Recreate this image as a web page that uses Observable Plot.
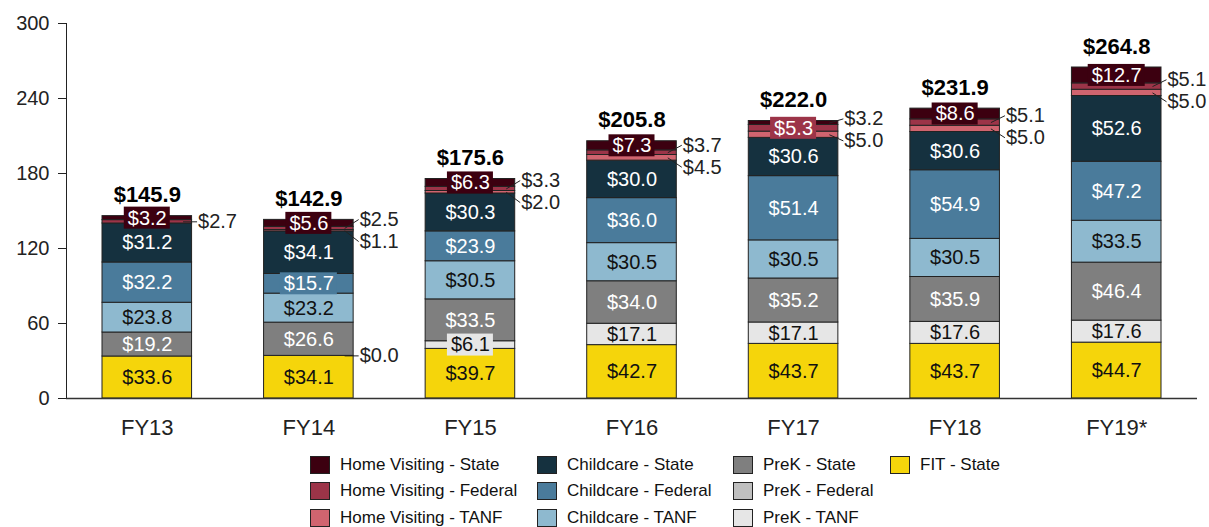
<!DOCTYPE html>
<html><head><meta charset="utf-8">
<script src="https://cdn.jsdelivr.net/npm/d3@7"></script>
<script src="https://cdn.jsdelivr.net/npm/@observablehq/plot@0.6"></script>
<style>
body{margin:0;background:#fff;font-family:"Liberation Sans",Arial,sans-serif;}
#chart svg{display:block}
g[aria-label="x-axis"] text, g[aria-label="x-axis tick label"] text{font-size:22px;}
#legend{position:relative;height:77px;width:1209px;overflow:hidden}
.li{position:absolute;display:flex;align-items:center;font-size:17px;color:#111;height:20px;white-space:nowrap}
.sw{width:20px;height:18px;border:1px solid #222;margin-right:10px;box-sizing:border-box}
</style></head><body><div id="chart"></div><div id="legend"></div>
<script>
const years = ["FY13","FY14","FY15","FY16","FY17","FY18","FY19*"];
// stack order, bottom to top
const series = ["FIT - State","PreK - TANF","PreK - Federal","PreK - State","Childcare - TANF","Childcare - Federal","Childcare - State","Home Visiting - TANF","Home Visiting - Federal","Home Visiting - State"];
const colors = ["#f5d50b","#e6e6e6","#bfbfbf","#7f7f7f","#8eb9cf","#4a7b9b","#15313f","#d0646f","#9c3448","#3c0010"];
const fitState    = [33.6,34.1,39.7,42.7,43.7,43.7,44.7];
const prekTanf    = [0.0,0.0,6.1,17.1,17.1,17.6,17.6];
const prekFederal = [0,0,0,0,0,0,0];
const prekState   = [19.2,26.6,33.5,34.0,35.2,35.9,46.4];
const ccTanf      = [23.8,23.2,30.5,30.5,30.5,30.5,33.5];
const ccFederal   = [32.2,15.7,23.9,36.0,51.4,54.9,47.2];
const ccState     = [31.2,34.1,30.3,30.0,30.6,30.6,52.6];
const hvTanf      = [0.0,1.1,2.0,4.5,5.0,5.0,5.0];
const hvFederal   = [2.7,2.5,3.3,3.7,5.3,5.1,5.1];
const hvState     = [3.2,5.6,6.3,7.3,3.2,8.6,12.7];
const values = [fitState,prekTanf,prekFederal,prekState,ccTanf,ccFederal,ccState,hvTanf,hvFederal,hvState];
// labels drawn outside the bar with a leader line
const callouts = [
  ["FY13","Home Visiting - Federal"],
  ["FY14","Home Visiting - Federal"],["FY14","Home Visiting - TANF"],["FY14","PreK - TANF"],
  ["FY15","Home Visiting - Federal"],["FY15","Home Visiting - TANF"],
  ["FY16","Home Visiting - Federal"],["FY16","Home Visiting - TANF"],
  ["FY17","Home Visiting - State"],["FY17","Home Visiting - TANF"],
  ["FY18","Home Visiting - Federal"],["FY18","Home Visiting - TANF"],
  ["FY19*","Home Visiting - Federal"],["FY19*","Home Visiting - TANF"]
];
const legendCols = [
  ["Home Visiting - State","Home Visiting - Federal","Home Visiting - TANF"],
  ["Childcare - State","Childcare - Federal","Childcare - TANF"],
  ["PreK - State","PreK - Federal","PreK - TANF"],
  ["FIT - State"]
];
const darkText = new Set(["Home Visiting - State","Home Visiting - Federal","Home Visiting - TANF","Childcare - State","Childcare - Federal","PreK - State"]);

const W=1209,H=450,mL=66,mR=12,mT=23,mB=52;
const yMax=300;
const bandPx=(W-mL-mR)/years.length;
const pxY=(H-mT-mB)/yMax;
const ux=p=>p/bandPx, uy=p=>p/pxY;
const inset=36;

const rows=[];
years.forEach((yr,i)=>{
  let base=0;
  series.forEach((s,k)=>{
    const v=values[k][i];
    rows.push({i,year:yr,series:s,value:v,y0:base,y1:base+v,mid:base+v/2});
    base+=v;
  });
});
const isCallout = r => callouts.some(([y,s])=>y===r.year&&s===r.series);
const totals = years.map((yr,i)=>({i,total:d3.sum(rows.filter(r=>r.i===i),r=>r.value)}));
const fmt = v => "$"+v.toFixed(1);

// callout label positions
const calloutRows=[];
years.forEach((yr,i)=>{
  const cs = rows.filter(r=>r.i===i&&isCallout(r));
  const hv = cs.filter(r=>r.series.startsWith("Home")).sort((a,b)=>b.mid-a.mid);
  const other = cs.filter(r=>!r.series.startsWith("Home"));
  if(hv.length===2){
    const avg=(hv[0].mid+hv[1].mid)/2;
    calloutRows.push({...hv[0],ly:avg+uy(10)});
    calloutRows.push({...hv[1],ly:avg-uy(12)});
  } else hv.forEach(r=>calloutRows.push({...r,ly:r.mid}));
  other.forEach(r=>calloutRows.push({...r,ly:r.mid}));
});
const barRight = d => d.i+0.5-ux(inset);

const inner = rows.filter(r=>r.value>0&&!isCallout(r));
const plain = inner.filter(r=>r.value>=16), boxed = inner.filter(r=>r.value<16);
const boxHalfW = d => ux((fmt(d.value).length*11+2)/2);

const chart = Plot.plot({
  width:W,height:H,marginLeft:mL,marginRight:mR,marginTop:mT,marginBottom:mB,
  style:{fontFamily:"Liberation Sans, Arial, sans-serif",fontSize:"20px",color:"#222",background:"#fff",overflow:"visible"},
  x:{domain:[-0.5,years.length-0.5],ticks:d3.range(years.length),tickFormat:i=>years[i],tickSize:0,tickPadding:21,label:null},
  y:{domain:[0,yMax],ticks:d3.range(0,yMax+1,60),tickSize:8,tickPadding:9,label:null,line:true},
  color:{domain:series,range:colors},
  marks:[
    Plot.rectY(rows.filter(r=>r.value>0),{x1:d=>d.i-0.5,x2:d=>d.i+0.5,y1:"y0",y2:"y1",fill:"series",insetLeft:inset,insetRight:inset,stroke:"#222",strokeWidth:1}),
    Plot.ruleY([0],{stroke:"#333",strokeWidth:1.5}),
    Plot.rect(boxed,{x1:d=>d.i-boxHalfW(d),x2:d=>d.i+boxHalfW(d),y1:d=>d.mid-uy(11),y2:d=>d.mid+uy(11),fill:"series"}),
    Plot.text(inner.filter(r=>darkText.has(r.series)),{x:"i",y:"mid",text:d=>fmt(d.value),fill:"#fff",fontSize:20}),
    Plot.text(inner.filter(r=>!darkText.has(r.series)),{x:"i",y:"mid",text:d=>fmt(d.value),fill:"#111",fontSize:20}),
    Plot.link(calloutRows,{x1:d=>barRight(d)-ux(9),y1:"mid",x2:d=>barRight(d)+ux(5),y2:"ly",stroke:"#222",strokeWidth:1}),
    Plot.text(calloutRows,{x:d=>barRight(d)+ux(6),y:"ly",text:d=>fmt(d.value),textAnchor:"start",fill:"#222",fontSize:20}),
    Plot.text(totals,{x:"i",y:"total",text:d=>fmt(d.total),dy:-21,fontWeight:"bold",fontSize:22,fill:"#000"})
  ]
});
document.getElementById("chart").appendChild(chart);

const colX=[310,537,733,890], rowY=[5,31,58];
const legend=document.getElementById("legend");
legendCols.forEach((col,c)=>col.forEach((name,r)=>{
  const el=document.createElement("div");
  el.className="li";
  el.style.left=colX[c]+"px"; el.style.top=rowY[r]+"px";
  const sw=document.createElement("span"); sw.className="sw";
  sw.style.background=colors[series.indexOf(name)];
  el.appendChild(sw);
  el.appendChild(document.createTextNode(name));
  legend.appendChild(el);
}));
</script></body></html>
